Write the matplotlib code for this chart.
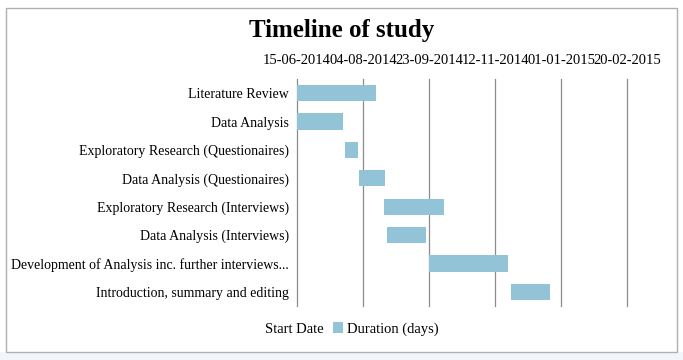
import datetime as dt

import matplotlib
matplotlib.use("Agg")
import matplotlib.pyplot as plt
import matplotlib.dates as mdates
from matplotlib.patches import Patch, Rectangle

tasks = [
    "Literature Review",
    "Data Analysis",
    "Exploratory Research (Questionaires)",
    "Data Analysis (Questionaires)",
    "Exploratory Research (Interviews)",
    "Data Analysis (Interviews)",
    "Development of Analysis inc. further interviews...",
    "Introduction, summary and editing",
]
start_dates = [
    "2014-06-15", "2014-06-15", "2014-07-21", "2014-08-01",
    "2014-08-20", "2014-08-22", "2014-09-23", "2014-11-24",
]
durations = [60, 35, 10, 20, 45, 30, 60, 30]
tick_dates = ["2014-06-15", "2014-08-04", "2014-09-23",
              "2014-11-12", "2015-01-01", "2015-02-20"]

bar_color = "#92C3D6"
grid_color = "#8C8C8C"
font = "Liberation Serif"

starts = [mdates.date2num(dt.datetime.strptime(s, "%Y-%m-%d")) for s in start_dates]
ticks = [mdates.date2num(dt.datetime.strptime(s, "%Y-%m-%d")) for s in tick_dates]

fig = plt.figure(figsize=(6.83, 3.6), dpi=100)
fig.patch.set_facecolor("white")

# outer chart frame like the spreadsheet export
fig.patches.append(Rectangle((0, 0), 1, 8 / 360, transform=fig.transFigure,
                             facecolor="#F2F5FA", edgecolor="none", zorder=-2))
fig.patches.append(Rectangle((6 / 683, 8 / 360), 671 / 683, 344 / 360,
                             transform=fig.transFigure, facecolor="white",
                             edgecolor="#B0B0B0", linewidth=1.0, zorder=-1))

ax = fig.add_axes([297 / 683, 54 / 360, 330 / 683, 227 / 360])
y = list(range(len(tasks)))

# invisible start series, stacked with the durations
ax.barh(y, starts, color="none", height=0.57)
ax.barh(y, durations, left=starts, color=bar_color, height=0.57, zorder=2)

ax.set_xlim(ticks[0], ticks[-1])
ax.set_ylim(len(tasks) - 0.5, -0.5)
ax.set_yticks(y)
ax.set_yticklabels(tasks, fontfamily=font, fontsize=10)
ax.set_xticks(ticks)
ax.set_xticklabels([dt.datetime.strptime(s, "%Y-%m-%d").strftime("%d-%m-%Y")
                    for s in tick_dates], fontfamily=font, fontsize=10.5)
ax.xaxis.tick_top()
ax.tick_params(axis="both", length=0, pad=6)
ax.tick_params(axis="x", pad=9)
ax.grid(axis="x", color=grid_color, linewidth=0.9, zorder=0)
for gl in ax.get_xgridlines():
    gl.set_clip_on(False)
ax.set_axisbelow(True)
for s in ax.spines.values():
    s.set_visible(False)

fig.text(0.5, 1 - 31 / 360, "Timeline of study", ha="center", va="center",
         fontfamily=font, fontweight="bold", fontsize=18)

handles = [Patch(facecolor="none", edgecolor="none"),
           Patch(facecolor=bar_color, edgecolor="none")]
fig.legend(handles, ["Start Date", "Duration (days)"], loc="center",
           bbox_to_anchor=(0.505, 1 - 329 / 360), ncol=2, frameon=False,
           prop={"family": font, "size": 10.5}, handlelength=0.7,
           handleheight=0.7, handletextpad=0.3, columnspacing=0.6)

fig.savefig("out.png", dpi=100)
